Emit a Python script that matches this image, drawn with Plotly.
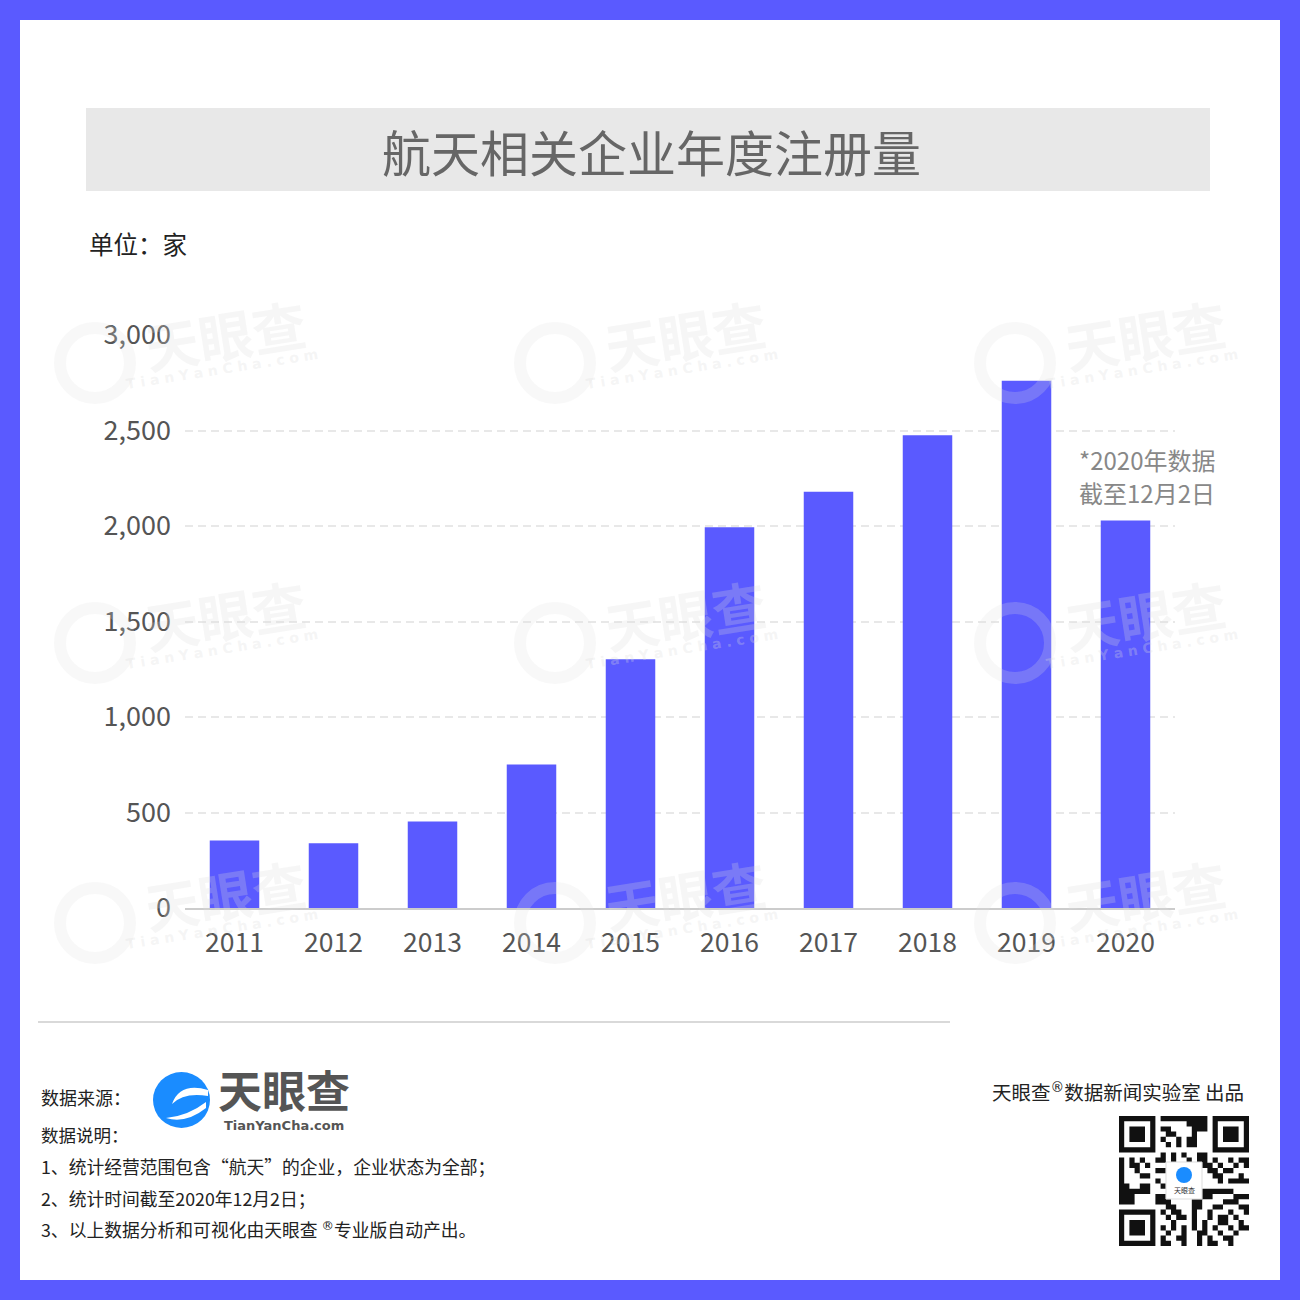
import plotly.graph_objects as go

years = ["2011", "2012", "2013", "2014", "2015", "2016", "2017", "2018", "2019", "2020"]
counts = [353, 339, 453, 751, 1302, 1994, 2179, 2475, 2760, 2029]
y_ticks = [0, 500, 1000, 1500, 2000, 2500, 3000]
y_tick_text = ["0", "500", "1,000", "1,500", "2,000", "2,500", "3,000"]

REG = "<sup><span style=\"font-family:'DejaVu Sans'\">®</span></sup>"
title_text = "航天相关企业年度注册量"
unit_text = "单位：家"
note_lines = ["*2020年数据", "截至12月2日"]
source_label = "数据来源："
explain_label = "数据说明："
explain_lines = [
    "1、统计经营范围包含“航天”的企业，企业状态为全部；",
    "2、统计时间截至2020年12月2日；",
    "3、以上数据分析和可视化由天眼查 " + REG + "专业版自动产出。",
]
credit_text = "天眼查" + REG + "数据新闻实验室 出品"

W, H = 1300, 1300
L, R, T, B = 185, 1175, 335, 908
PW, PH = R - L, B - T
FONT = "Noto Sans CJK SC"
PURPLE = "#5A5AFF"


def px(x):
    return (x - L) / PW


def py(y):
    return (B - y) / PH


fig = go.Figure()
fig.add_trace(go.Bar(x=years, y=counts, marker=dict(color=PURPLE, line=dict(width=0)),
                     hoverinfo="skip"))

shapes = []
annotations = []


def text(x, y, s, size, color="#222222", anchor="left", family=FONT, angle=0):
    annotations.append(dict(xref="paper", yref="paper", x=px(x), y=py(y), text=s, showarrow=False,
                            xanchor=anchor, yanchor="middle", textangle=angle,
                            font=dict(family=family, size=size, color=color)))


# white card inside purple frame
shapes.append(dict(type="rect", xref="paper", yref="paper", x0=px(20), x1=px(1280), y0=py(1280), y1=py(20),
                   fillcolor="white", line=dict(width=0), layer="below"))
# title box
shapes.append(dict(type="rect", xref="paper", yref="paper", x0=px(86), x1=px(1210), y0=py(191), y1=py(108),
                   fillcolor="#e8e8e8", line=dict(width=0), layer="below"))
# separator line
shapes.append(dict(type="line", xref="paper", yref="paper", x0=px(38), x1=px(950), y0=py(1022), y1=py(1022),
                   line=dict(color="#cccccc", width=1.5), layer="below"))

# watermarks
for cx in (0, 460, 920):
    for cy in (0, 280, 560):
        shapes.append(dict(type="circle", xref="paper", yref="paper",
                           x0=px(60 + cx), x1=px(130 + cx), y0=py(398 + cy), y1=py(328 + cy),
                           fillcolor="rgba(0,0,0,0)", line=dict(width=12, color="rgba(225,225,225,0.22)"),
                           layer="above"))
        text(225 + cx, 333 + cy, "<b>天眼查</b>", 54, "rgba(220,220,220,0.25)", "center", angle=-9)
        text(222 + cx, 369 + cy, "<b>T i a n Y a n C h a . c o m</b>", 14, "rgba(220,220,220,0.30)",
             "center", family="DejaVu Sans", angle=-9)

# title
text(651, 151, title_text, 49, "#666666", "center")
# unit
text(87, 244, unit_text, 24.5, "#222222")
# note
for i, line in enumerate(note_lines):
    text(1077, 459 + 33 * i, line, 24, "#888888")

# footer texts
text(39, 1097, source_label, 18)
text(39, 1134, explain_label, 17.5)
for i, line in enumerate(explain_lines):
    text(39, 1166 + 31.5 * i, line, 17.8)
text(1246, 1091, credit_text, 19.5, anchor="right")

# logo
shapes.append(dict(type="circle", xref="paper", yref="paper", x0=px(153), x1=px(210), y0=py(1128), y1=py(1072),
                   fillcolor="#1a8cff", line=dict(width=0)))
shapes.append(dict(type="path", xref="paper", yref="paper",
                   path=f"M{px(208)},{py(1090)} Q{px(180)},{py(1082)} {px(172)},{py(1104)} "
                        f"Q{px(184)},{py(1092)} {px(208)},{py(1096)} Z",
                   fillcolor="white", line=dict(width=0)))
shapes.append(dict(type="path", xref="paper", yref="paper",
                   path=f"M{px(206)},{py(1108)} Q{px(186)},{py(1124)} {px(166)},{py(1118)} "
                        f"Q{px(188)},{py(1116)} {px(206)},{py(1102)} Z",
                   fillcolor="white", line=dict(width=0)))
text(284, 1089, "<b>天眼查</b>", 44, "#555555", "center")
text(284, 1125, "<b>TianYanCha.com</b>", 13, "#555555", "center", family="DejaVu Sans")

# QR code (decorative)
qx0, qy0, n, m = 1119, 1116, 25, 5.2
path = []


def finder(ci, cj):
    out = []
    for i in range(7):
        for j in range(7):
            ring = max(abs(i - 3), abs(j - 3))
            if ring != 2:
                out.append((ci + i, cj + j))
    return out


cells = set(finder(0, 0) + finder(0, n - 7) + finder(n - 7, 0))
reserved = lambda i, j: (i < 8 and j < 8) or (i < 8 and j >= n - 8) or (i >= n - 8 and j < 8)
for i in range(n):
    for j in range(n):
        if reserved(i, j):
            continue
        if 9 <= i <= 15 and 9 <= j <= 15:
            continue
        if ((i * 37 + j * 23 + i * j * 11 + (i ^ j) * 5) % 7) < 3:
            cells.add((i, j))
for (i, j) in cells:
    x0, x1 = px(qx0 + j * m), px(qx0 + (j + 1) * m)
    y0, y1 = py(qy0 + i * m), py(qy0 + (i + 1) * m)
    path.append(f"M{x0},{y0}L{x1},{y0}L{x1},{y1}L{x0},{y1}Z")
shapes.append(dict(type="path", xref="paper", yref="paper", path="".join(path),
                   fillcolor="#111111", line=dict(width=0)))
shapes.append(dict(type="rect", xref="paper", yref="paper", x0=px(1166), x1=px(1202), y0=py(1199), y1=py(1162),
                   fillcolor="white", line=dict(color="#dddddd", width=1)))
shapes.append(dict(type="circle", xref="paper", yref="paper", x0=px(1176), x1=px(1192), y0=py(1183), y1=py(1167),
                   fillcolor="#1a8cff", line=dict(width=0)))
text(1184, 1190, "天眼查", 7, "#333333", "center")

fig.update_layout(
    width=W, height=H,
    margin=dict(l=L, r=W - R, t=T, b=H - B, pad=0),
    paper_bgcolor=PURPLE,
    plot_bgcolor="rgba(0,0,0,0)",
    showlegend=False,
    bargap=0.5,
    shapes=shapes,
    annotations=annotations,
    font=dict(family=FONT),
    xaxis=dict(
        type="category", showgrid=False, showline=True, linecolor="#cccccc", linewidth=2,
        ticks="", ticklabelstandoff=10,
        tickfont=dict(family=FONT, size=26.5, color="#555555"), fixedrange=True,
    ),
    yaxis=dict(
        range=[0, 3000], tickvals=y_ticks, ticktext=y_tick_text,
        showgrid=True, gridcolor="#e8e8e8", gridwidth=2, griddash="8px,5px",
        zeroline=False, showline=False, ticks="", ticklabelstandoff=13,
        tickfont=dict(family=FONT, size=27, color="#555555"), fixedrange=True,
    ),
)

fig.write_html("out.html", config={"displayModeBar": False},
               post_script="document.body.style.margin='0';document.body.style.overflow='hidden';")
